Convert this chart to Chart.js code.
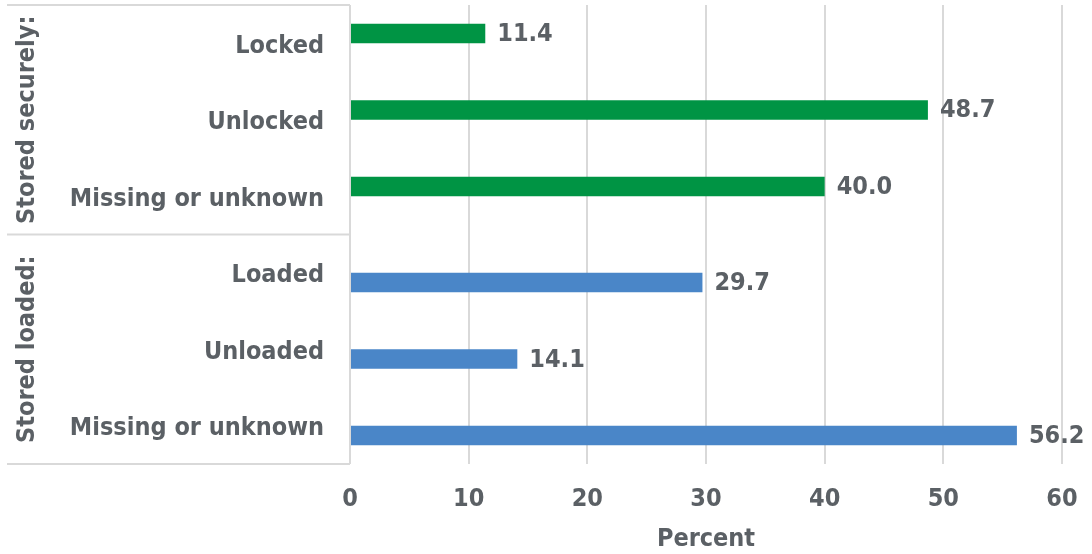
<!DOCTYPE html>
<html>
<head>
<meta charset="utf-8">
<script src="https://cdn.jsdelivr.net/npm/chart.js@4"></script>
<style>
  html, body { margin: 0; padding: 0; background: #fff; }
  #wrap { width: 1092px; height: 554px; }
</style>
</head>
<body>
<div id="wrap"><canvas id="barChart" width="1092" height="554"></canvas></div>
<script>
const labels = [
    "Locked",
    "Unlocked",
    "Missing or unknown",
    "Loaded",
    "Unloaded",
    "Missing or unknown",
];
const securelyValues = [11.4, 48.7, 40.0, null, null, null];
const loadedValues = [null, null, null, 29.7, 14.1, 56.2];
const groupLabels = ["Stored securely:", "Stored loaded:"];
const groupSizes = [3, 3];
const xTicks = [0, 10, 20, 30, 40, 50, 60];

const textColor = "#5b6065";
const fontFamily = "'DejaVu Sans Condensed', 'DejaVu Sans', sans-serif";

// value labels at the end of each bar
const valueLabels = {
    id: "valueLabels",
    afterDatasetsDraw(chart) {
        const ctx = chart.ctx;
        ctx.save();
        ctx.font = "bold 25px " + fontFamily;
        ctx.fillStyle = textColor;
        ctx.textAlign = "left";
        ctx.textBaseline = "middle";
        chart.data.datasets.forEach((ds, i) => {
            chart.getDatasetMeta(i).data.forEach((bar, j) => {
                const v = ds.data[j];
                if (v === null) return;
                ctx.fillText(v.toFixed(1), bar.x + 12, bar.y + 1);
            });
        });
        ctx.restore();
    },
};

// box with group labels on the left
const groupBox = {
    id: "groupBox",
    afterDraw(chart) {
        const ctx = chart.ctx;
        const area = chart.chartArea;
        const y = chart.scales.y;
        const x0 = 7;
        ctx.save();
        ctx.strokeStyle = "#d9d9d9";
        ctx.lineWidth = 2;
        let start = 0;
        const bounds = [area.top];
        groupSizes.forEach((n, g) => {
            const end = start + n - 1;
            const bottom = g === groupSizes.length - 1
                ? area.bottom
                : (y.getPixelForValue(end) + y.getPixelForValue(end + 1)) / 2;
            bounds.push(bottom);
            start += n;
        });
        bounds.forEach((b) => {
            ctx.beginPath();
            ctx.moveTo(x0, b);
            ctx.lineTo(area.left, b);
            ctx.stroke();
        });
        ctx.font = "bold 25px " + fontFamily;
        ctx.fillStyle = textColor;
        ctx.textAlign = "center";
        ctx.textBaseline = "middle";
        groupLabels.forEach((t, g) => {
            const cy = (bounds[g] + bounds[g + 1]) / 2;
            ctx.save();
            ctx.translate(27, cy);
            ctx.rotate(-Math.PI / 2);
            ctx.fillText(t, 0, 0);
            ctx.restore();
        });
        ctx.restore();
    },
};

const data = {
    labels: labels,
    datasets: [
        {
            label: "Stored securely",
            data: securelyValues,
            backgroundColor: "#009444",
            barPercentage: 1,
            categoryPercentage: 0.51,
        },
        {
            label: "Stored loaded",
            data: loadedValues,
            backgroundColor: "#4a86c8",
            barPercentage: 1,
            categoryPercentage: 0.51,
        },
    ],
};

const config = {
    type: "bar",
    data: data,
    options: {
        indexAxis: "y",
        responsive: false,
        animation: false,
        layout: {
            padding: { top: 5, right: 30, bottom: 0, left: 0 },
        },
        scales: {
            x: {
                min: xTicks[0],
                max: xTicks[xTicks.length - 1],
                afterBuildTicks: (scale) => {
                    scale.ticks = xTicks.map((v) => ({ value: v }));
                },
                afterFit: (scale) => {
                    scale.height = 90;
                    scale.paddingLeft = 0;
                    scale.paddingRight = 0;
                },
                grid: { color: "#d9d9d9", lineWidth: 2, drawTicks: false },
                border: { display: false },
                ticks: {
                    color: textColor,
                    padding: 20,
                    maxRotation: 0,
                    font: { family: fontFamily, size: 25, weight: "bold" },
                },
                title: {
                    display: true,
                    text: "Percent",
                    color: textColor,
                    padding: { top: 8, bottom: 0 },
                    font: { family: fontFamily, size: 25, weight: "bold" },
                },
            },
            y: {
                afterFit: (scale) => {
                    scale.width = 350;
                    scale.paddingTop = 0;
                    scale.paddingBottom = 0;
                },
                grid: { display: false, drawTicks: false },
                border: { display: false },
                ticks: {
                    color: textColor,
                    padding: 26,
                    labelOffset: 3,
                    font: { family: fontFamily, size: 25, weight: "bold" },
                },
            },
        },
        plugins: {
            legend: { display: false },
            tooltip: { enabled: false },
        },
    },
    plugins: [valueLabels, groupBox],
};

new Chart(document.getElementById("barChart"), config);
</script>
</body>
</html>
